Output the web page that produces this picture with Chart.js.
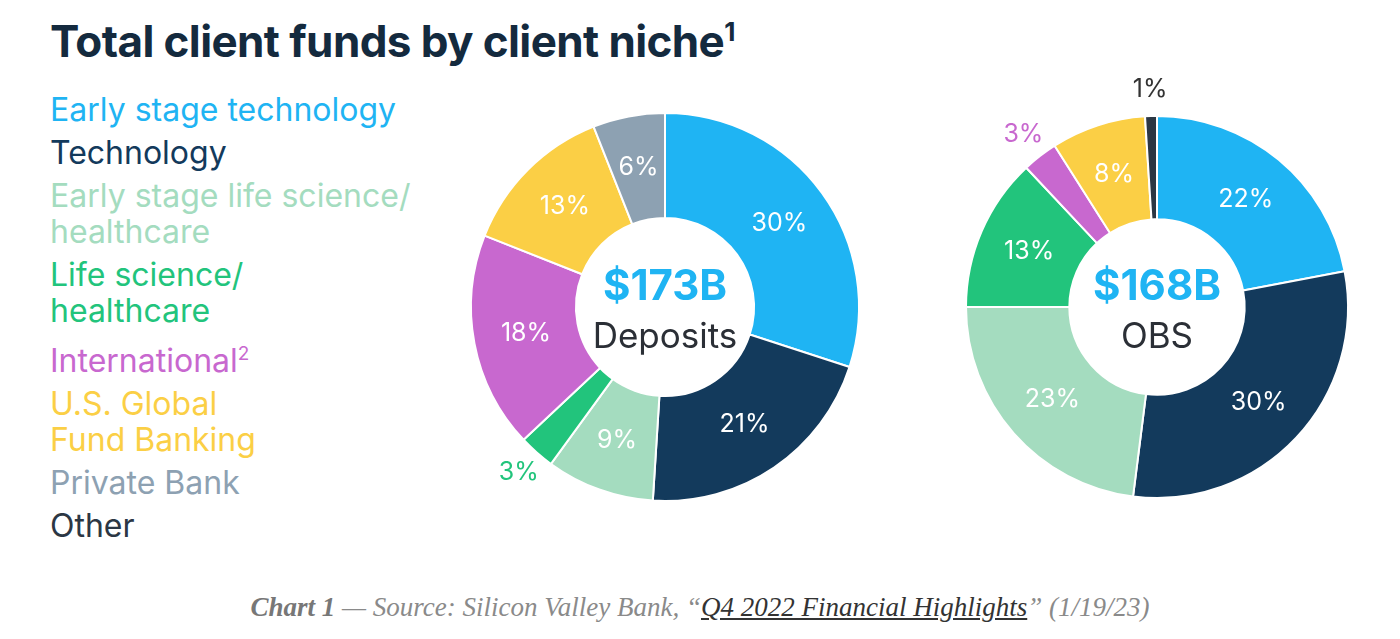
<!DOCTYPE html>
<html>
<head>
<meta charset="utf-8">
<script src="https://cdn.jsdelivr.net/npm/chart.js@4"></script>
<style>
  body { margin: 0; width: 1400px; height: 639px; background: #fff; position: relative; overflow: hidden; font-family: Inter, "Liberation Sans", sans-serif; }
  #title { position: absolute; left: 50px; top: 14px; font-size: 44px; font-weight: 700; color: #142a3e; letter-spacing: -0.6px; }
  #title sup { font-size: 26px; }
  #legend { position: absolute; left: 50px; top: 92px; font-size: 32px; line-height: 36px; }
  #legend div { margin-bottom: 7px; }
  #legend sup { font-size: 19px; }
  canvas { position: absolute; }
  #c1 { left: 420px; top: 57px; }
  #c2 { left: 912px; top: 57px; }
  #caption { position: absolute; left: 0; width: 1400px; top: 592px; text-align: center; font-family: "Liberation Serif", "DejaVu Serif", serif; font-style: italic; font-size: 27px; color: #8a8a8a; }
  #caption b { color: #777; }
  #caption u { color: #333; }
</style>
</head>
<body>
<div id="title">Total client funds by client niche<sup>1</sup></div>
<div id="legend"></div>
<canvas id="c1" width="490" height="500"></canvas>
<canvas id="c2" width="490" height="500"></canvas>
<div id="caption"><b>Chart 1</b> — Source: Silicon Valley Bank, “<u>Q4 2022 Financial Highlights</u>” (1/19/23)</div>
<script>
// niches and colours
const niches = ["Early stage technology", "Technology", "Early stage life science/<br>healthcare", "Life science/<br>healthcare", "International<sup>2</sup>", "U.S. Global<br>Fund Banking", "Private Bank", "Other"];
const colors = ["#1fb4f3", "#133a5c", "#a4dcbf", "#22c47c", "#c868cf", "#fbcf45", "#8da1b2", "#2c3744"];

// percentages
const deposits = [30, 21, 9, 3, 18, 13, 6, 0];
const obs = [22, 30, 23, 13, 3, 8, 0, 1];

// legend
let html = "";
niches.forEach((n, i) => {
  html += "<div style='color:" + colors[i] + "'>" + n + "</div>";
});
document.getElementById("legend").innerHTML = html;

// draws percent labels and the centre text
const labelPlugin = {
  id: "labels",
  afterDraw(chart) {
    const ctx = chart.ctx;
    const meta = chart.getDatasetMeta(0);
    const data = chart.data.datasets[0].data;
    ctx.save();
    ctx.textAlign = "center";
    ctx.textBaseline = "middle";
    ctx.font = "25px Inter, sans-serif";
    meta.data.forEach((arc, i) => {
      if (!data[i]) return;
      const mid = (arc.startAngle + arc.endAngle) / 2;
      let r = (arc.innerRadius + arc.outerRadius) / 2;
      ctx.fillStyle = "#fff";
      if (data[i] <= 3) {
        r = arc.outerRadius + 27;
        ctx.fillStyle = i == 7 ? "#333" : colors[i];
      }
      ctx.fillText(data[i] + "%", arc.x + Math.cos(mid) * r, arc.y + Math.sin(mid) * r);
    });
    const cx = meta.data[0].x, cy = meta.data[0].y;
    ctx.font = "bold 42px Inter, sans-serif";
    ctx.fillStyle = "#1fb4f3";
    ctx.fillText(chart.options.centerTop, cx, cy - 20);
    ctx.font = "35px Inter, sans-serif";
    ctx.fillStyle = "#2b2f36";
    ctx.fillText(chart.options.centerBottom, cx, cy + 30);
    ctx.restore();
  }
};

function makeDonut(id, values, top, bottom, radius) {
  new Chart(document.getElementById(id), {
    type: "doughnut",
    data: {
      labels: niches,
      datasets: [{ data: values, backgroundColor: colors, borderColor: "#fff", borderWidth: 2, radius: radius, cutout: 112 }]
    },
    options: {
      responsive: false,
      animation: false,
      centerTop: top,
      centerBottom: bottom,
      plugins: { legend: { display: false }, tooltip: { enabled: false } }
    },
    plugins: [labelPlugin]
  });
}

makeDonut("c1", deposits, "$173B", "Deposits", 194);
makeDonut("c2", obs, "$168B", "OBS", 191);
</script>
</body>
</html>
